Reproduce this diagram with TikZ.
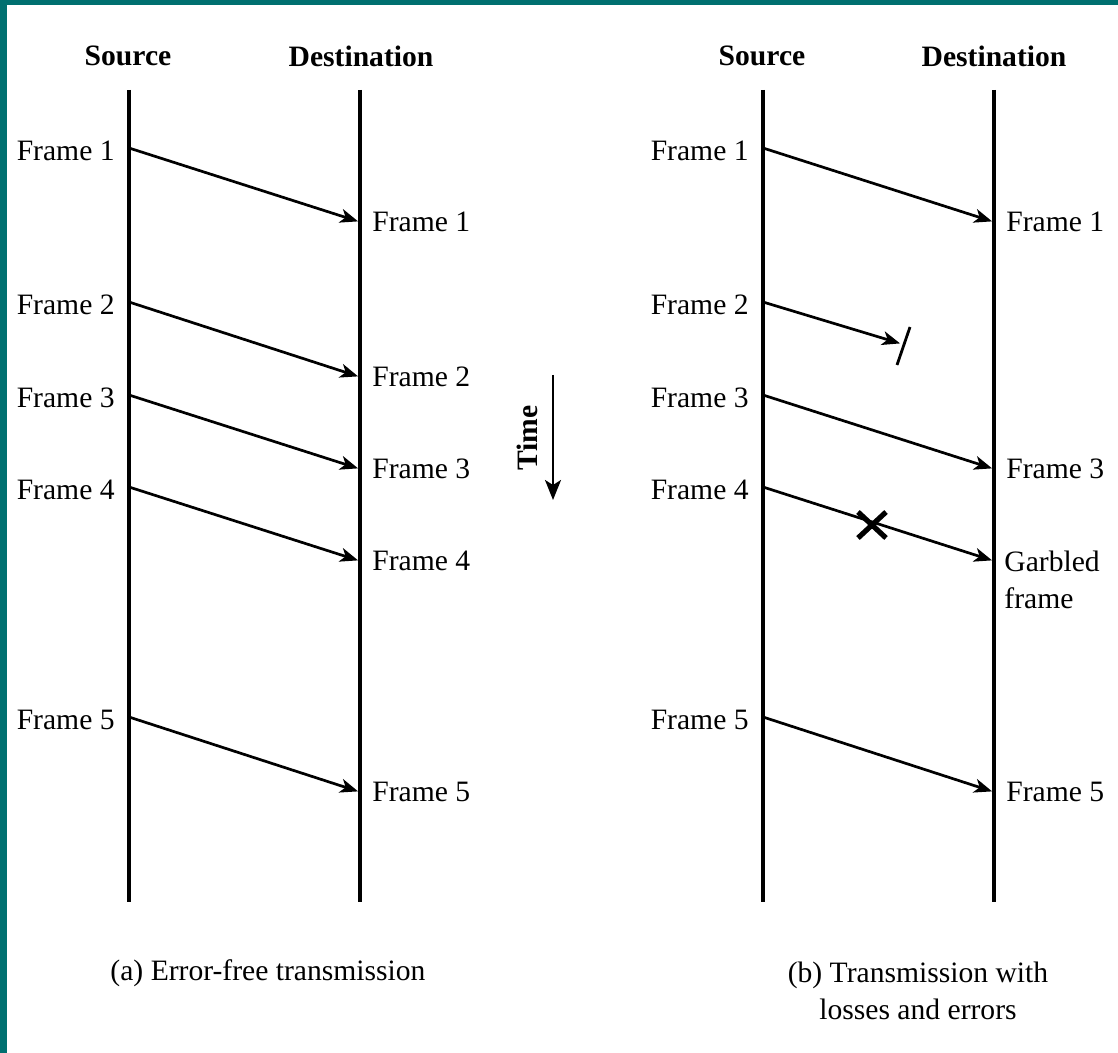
\documentclass[tikz,border=0pt]{standalone}
\usepackage{fontspec}
\setmainfont{Liberation Serif}
\usetikzlibrary{positioning,arrows.meta}
\definecolor{edgeteal}{RGB}{0,112,112}

\begin{document}
\begin{tikzpicture}[
        x=0.5pt, y=-0.5pt,
        font=\fontsize{14.8}{18.5}\selectfont,
        head/.style={font=\fontsize{14.8}{18.5}\selectfont\bfseries, inner sep=1pt},
        life/.style={line width=2pt},
        msg/.style={-{Stealth[length=9pt,width=7pt,inset=2.5pt]}, line width=1.35pt, shorten >=1pt},
        srcl/.style={inner sep=1pt, yshift=-1.5pt},
        dstl/.style={inner sep=1pt},
        captxt/.style={align=center, inner sep=1pt}
    ]
    \useasboundingbox (0,0) rectangle (1118,1053);
    \fill[white] (0,0) rectangle (1118,1053);
    \fill[edgeteal] (0,0) rectangle (7,1053);
    \fill[edgeteal] (0,0) rectangle (1118,5);

    % (a) error-free
    \node[head] (srcA) at (128,56) {Source};
    \node[head] (dstA) at (361,56) {Destination};
    \coordinate (srcAtop) at (129,90);
    \coordinate (srcAbot) at (129,902);
    \coordinate (dstAtop) at (360,90);
    \coordinate (dstAbot) at (360,902);
    \draw[life] (srcAtop) -- (srcAbot);
    \draw[life] (dstAtop) -- (dstAbot);

    \coordinate (sA1) at (129,148);
    \coordinate (sA2) at (129,302);
    \coordinate (sA3) at (129,395);
    \coordinate (sA4) at (129,487);
    \coordinate (sA5) at (129,717);
    \coordinate (dA1) at (360,222);
    \coordinate (dA2) at (360,377);
    \coordinate (dA3) at (360,469);
    \coordinate (dA4) at (360,561);
    \coordinate (dA5) at (360,792);

    \node[srcl, left=6pt of sA1] (fsA1) {Frame 1};
    \node[srcl, left=6pt of sA2] (fsA2) {Frame 2};
    \node[srcl, left=6pt of sA3] (fsA3) {Frame 3};
    \node[srcl, left=6pt of sA4] (fsA4) {Frame 4};
    \node[srcl, left=6pt of sA5] (fsA5) {Frame 5};
    \node[dstl, right=5pt of dA1] (fdA1) {Frame 1};
    \node[dstl, right=5pt of dA2] (fdA2) {Frame 2};
    \node[dstl, right=5pt of dA3] (fdA3) {Frame 3};
    \node[dstl, right=5pt of dA4] (fdA4) {Frame 4};
    \node[dstl, right=5pt of dA5] (fdA5) {Frame 5};

    \draw[msg] (sA1) -- (dA1);
    \draw[msg] (sA2) -- (dA2);
    \draw[msg] (sA3) -- (dA3);
    \draw[msg] (sA4) -- (dA4);
    \draw[msg] (sA5) -- (dA5);

    \node[captxt] (capA) at (268,973) {(a) Error-free transmission};

    % time arrow
    \coordinate (timetop) at (553,375);
    \coordinate (timebot) at (553,500);
    \draw[-{Stealth[length=10pt,width=8pt,inset=2.5pt]}, line width=1.1pt] (timetop) -- (timebot);
    \node[head, rotate=90] (time) at (527,438) {Time};

    % (b) losses and errors
    \node[head] (srcB) at (762,56) {Source};
    \node[head] (dstB) at (994,56) {Destination};
    \coordinate (srcBtop) at (763,90);
    \coordinate (srcBbot) at (763,902);
    \coordinate (dstBtop) at (994,90);
    \coordinate (dstBbot) at (994,902);
    \draw[life] (srcBtop) -- (srcBbot);
    \draw[life] (dstBtop) -- (dstBbot);

    \coordinate (sB1) at (763,148);
    \coordinate (sB2) at (763,302);
    \coordinate (sB3) at (763,395);
    \coordinate (sB4) at (763,487);
    \coordinate (sB5) at (763,717);
    \coordinate (dB1) at (994,222);
    \coordinate (lost) at (902,344);
    \coordinate (dB3) at (994,469);
    \coordinate (dB4) at (994,561);
    \coordinate (dB5) at (994,792);

    \node[srcl, left=6pt of sB1] (fsB1) {Frame 1};
    \node[srcl, left=6pt of sB2] (fsB2) {Frame 2};
    \node[srcl, left=6pt of sB3] (fsB3) {Frame 3};
    \node[srcl, left=6pt of sB4] (fsB4) {Frame 4};
    \node[srcl, left=6pt of sB5] (fsB5) {Frame 5};
    \node[dstl, right=5pt of dB1] (fdB1) {Frame 1};
    \node[dstl, right=5pt of dB3] (fdB3) {Frame 3};
    \node[dstl, align=left, anchor=west] (fdB4) at ([xshift=4pt,yshift=-9.25pt]dB4) {Garbled\\frame};
    \node[dstl, right=5pt of dB5] (fdB5) {Frame 5};

    \draw[msg] (sB1) -- (dB1);
    \draw[msg] (sB2) -- (lost);
    \draw[msg] (sB3) -- (dB3);
    \draw[msg] (sB4) -- (dB4);
    \draw[msg] (sB5) -- (dB5);

    % lost frame bar and error cross
    \coordinate (barT) at (910,327);
    \coordinate (barB) at (897,365);
    \draw[line width=1.4pt] (barB) -- (barT);
    \coordinate (hit) at (872,525);
    \draw[line width=2.6pt] ([shift={(-14,-13)}]hit) -- ([shift={(14,13)}]hit);
    \draw[line width=2.6pt] ([shift={(-14,13)}]hit) -- ([shift={(14,-13)}]hit);

    \node[captxt] (capB) at (918,991) {(b) Transmission with\\losses and errors};
\end{tikzpicture}
\end{document}
